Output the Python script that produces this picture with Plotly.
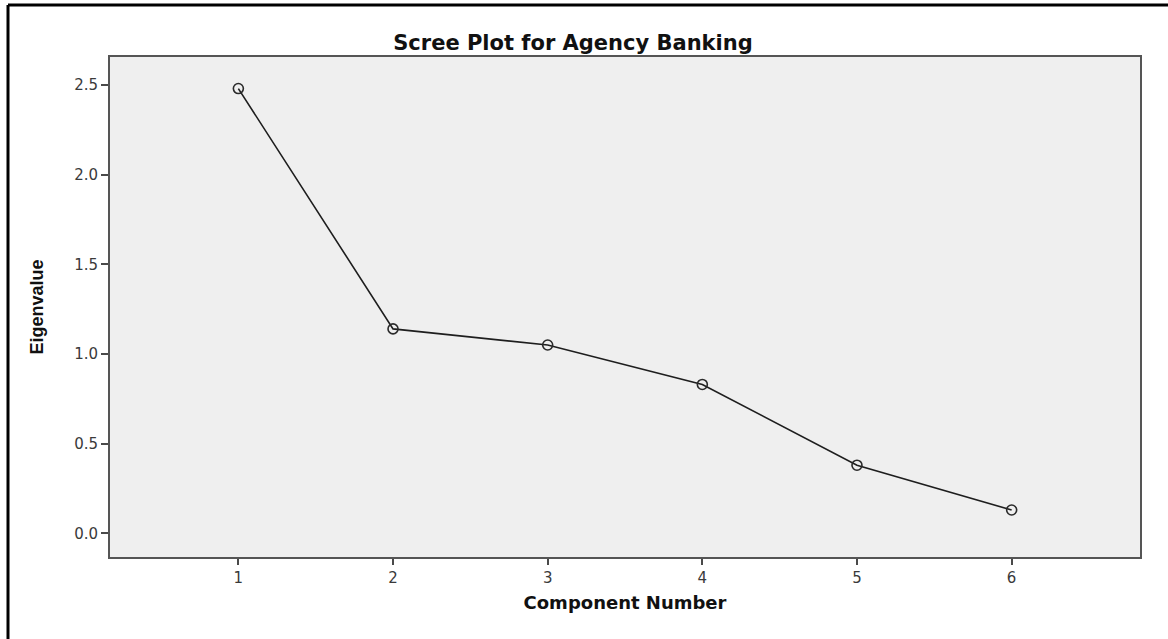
import plotly.graph_objects as go

# Scree plot: eigenvalue of each principal component
components = [1, 2, 3, 4, 5, 6]
eigenvalues = [2.48, 1.14, 1.05, 0.83, 0.38, 0.13]
y_ticks = [0.0, 0.5, 1.0, 1.5, 2.0, 2.5]
y_tick_text = ["0.0", "0.5", "1.0", "1.5", "2.0", "2.5"]

W, H = 1168, 639
ML, MR, MT, MB = 110, 28, 57, 82
PW, PH = W - ML - MR, H - MT - MB

def px_to_paper_x(px):
    return (px - ML) / PW

def px_to_paper_y(py):
    return (H - MB - py) / PH

fig = go.Figure()
fig.add_trace(go.Scatter(
    x=components,
    y=eigenvalues,
    mode="lines+markers",
    line=dict(color="#1e1e1e", width=1.6),
    marker=dict(symbol="circle-open", size=10, color="#2a2a2a",
                line=dict(width=1.6, color="#2a2a2a")),
    showlegend=False,
    hoverinfo="x+y",
))

axis_font = dict(family="DejaVu Sans", size=15, color="#3a3a3a")

fig.update_layout(
    width=W, height=H,
    margin=dict(l=ML, r=MR, t=MT, b=MB),
    paper_bgcolor="white",
    plot_bgcolor="#efefef",
    title=dict(
        text="<b>Scree Plot for Agency Banking</b>",
        font=dict(family="DejaVu Sans", size=21, color="#111111"),
        x=px_to_paper_x(573), xref="paper", xanchor="center",
        y=1 - 43 / H, yref="container", yanchor="middle",
    ),
    xaxis=dict(
        range=[0.17, 6.83],
        tickvals=components,
        ticktext=[str(c) for c in components],
        ticks="outside", ticklen=6, tickwidth=2, tickcolor="#4a4a4a",
        tickfont=axis_font,
        showgrid=False, zeroline=False,
        showline=True, linecolor="#555555", linewidth=2, mirror=True,
        title=dict(text="<b>Component Number</b>",
                   font=dict(family="DejaVu Sans", size=18, color="#111111"),
                   standoff=10),
    ),
    yaxis=dict(
        range=[-0.132, 2.656],
        tickvals=y_ticks,
        ticktext=y_tick_text,
        ticks="outside", ticklen=7, tickwidth=2, tickcolor="#4a4a4a",
        tickfont=axis_font,
        showgrid=False, zeroline=False,
        showline=True, linecolor="#555555", linewidth=2, mirror=True,
        title=dict(text="<b>Eigenvalue</b>",
                   font=dict(family="Liberation Sans", size=18, color="#111111"),
                   standoff=26),
    ),
    shapes=[
        # outer frame lines along the left and top edges
        dict(type="line", xref="paper", yref="paper",
             x0=px_to_paper_x(8), x1=px_to_paper_x(1175),
             y0=px_to_paper_y(5), y1=px_to_paper_y(5),
             line=dict(color="black", width=3)),
        dict(type="line", xref="paper", yref="paper",
             x0=px_to_paper_x(8), x1=px_to_paper_x(8),
             y0=px_to_paper_y(5), y1=px_to_paper_y(645),
             line=dict(color="black", width=3)),
    ],
)

fig.write_html("out.html")
